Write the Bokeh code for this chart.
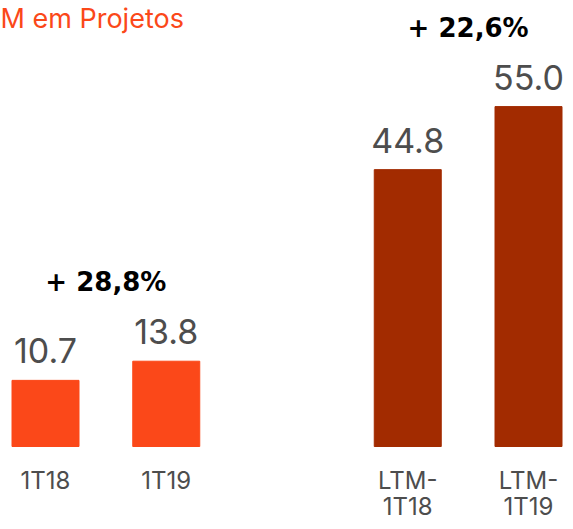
from bokeh.plotting import figure
from bokeh.models import Range1d, ColumnDataSource, Label
from bokeh.core.properties import value
from bokeh.embed import file_html
from bokeh.resources import INLINE

# ---- data ----
title_text = "M em Projetos"
categories = ["1T18", "1T19", "LTM-1T18", "LTM-1T19"]
values = [10.7, 13.8, 44.8, 55.0]
value_labels = ["10.7", "13.8", "44.8", "55.0"]
groups = ["quarter", "quarter", "ltm", "ltm"]
growth_labels = ["+ 28,8%", "+ 22,6%"]
group_order = ["quarter", "ltm"]

# ---- styles ----
group_colors = {"quarter": "#FB4819", "ltm": "#A22B00"}
FONT = "Inter"
GRAY = "#4d4d4d"
TXT_SHIFT = -8  # empirical baseline correction (px)

# positions: one empty slot between groups
xs = []
slot = 0
prev = None
for g in groups:
    if prev is not None and g != prev:
        slot += 1
    xs.append(slot)
    slot += 1
    prev = g

# wrap long category labels after the hyphen
line1, line2 = [], []
for c in categories:
    if "-" in c:
        a, b = c.split("-", 1)
        line1.append(a + "-")
        line2.append(b)
    else:
        line1.append(c)
        line2.append("")

W, H = 565, 521
px_x = 120.75
x0 = -45 / px_x
px_y = 6.18
zero_px = 446
y_top = zero_px / px_y
y_bot = -(H - zero_px) / px_y

p = figure(width=W, height=H, output_backend="svg", toolbar_location=None,
           x_range=Range1d(x0, x0 + W / px_x), y_range=Range1d(y_bot, y_top),
           min_border=0, outline_line_color=None)
p.xaxis.visible = False
p.yaxis.visible = False
p.xgrid.visible = False
p.ygrid.visible = False
p.background_fill_color = "white"
p.border_fill_color = "white"

src = ColumnDataSource(dict(x=xs, top=values, l1=line1, l2=line2, lab=value_labels,
                            color=[group_colors[g] for g in groups]))

p.vbar(x="x", top="top", bottom=0, width=67 / px_x, color="color", source=src)

p.text(x="x", y="top", text="lab", source=src, text_align="center",
       text_baseline="alphabetic", y_offset=-21.5 + TXT_SHIFT, text_color=GRAY,
       text_font=value(FONT), text_font_size="34px")

p.text(x="x", y=0, text="l1", source=src, text_align="center",
       text_baseline="alphabetic", y_offset=42 + TXT_SHIFT, text_color=GRAY,
       text_font=value(FONT), text_font_size="24px")
p.text(x="x", y=0, text="l2", source=src, text_align="center",
       text_baseline="alphabetic", y_offset=68 + TXT_SHIFT, text_color=GRAY,
       text_font=value(FONT), text_font_size="24px")

gx, gy = [], []
for g in group_order:
    idx = [i for i, gg in enumerate(groups) if gg == g]
    gx.append(sum(xs[i] for i in idx) / len(idx))
    gy.append(max(values[i] for i in idx))
p.text(x=gx, y=gy, text=growth_labels, text_align="center",
       text_baseline="alphabetic", y_offset=-71 + TXT_SHIFT, text_color="black",
       text_font=value("DejaVu Sans"), text_font_size="26px", text_font_style="bold")

p.add_layout(Label(x=0, y=H - 18, x_units="screen", y_units="screen",
                   text=title_text, text_color="#FB4819", text_font=FONT,
                   text_font_size="27px", text_baseline="alphabetic"))

open("out.html", "w").write(file_html(p, INLINE))
